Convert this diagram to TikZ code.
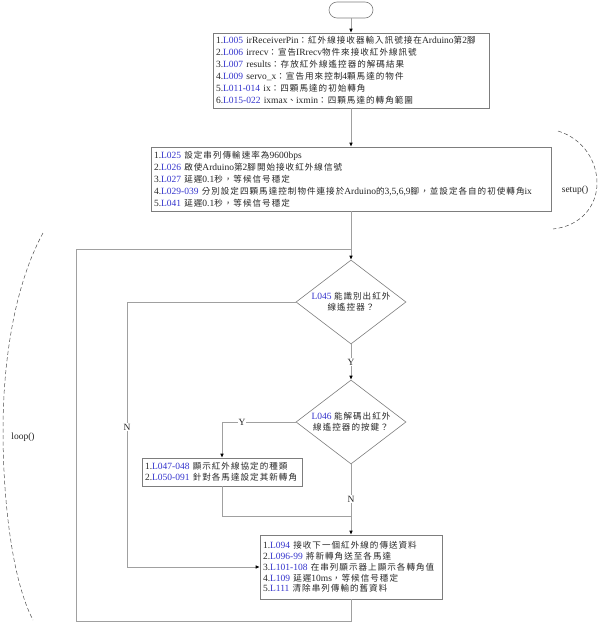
\documentclass[tikz,border=0pt]{standalone}
\usepackage{fontspec}
\setmainfont{Liberation Serif}
\newfontfamily\zhfont[Scale=0.9,LetterSpace=12]{Noto Sans CJK TC}
\usetikzlibrary{shapes.geometric,arrows.meta}
\definecolor{lnblue}{RGB}{51,51,204}
\definecolor{linegray}{RGB}{160,160,160}
\definecolor{boxgray}{RGB}{125,125,125}
\newcommand\zh[1]{{\zhfont #1}}
\newcommand\lno[1]{\textcolor{lnblue}{#1}}
\begin{document}
\begin{tikzpicture}[x=1pt,y=-1pt,
  textbox/.style={draw=boxgray, line width=0.6pt, align=left, inner xsep=3pt, inner ysep=0pt, text=black!85, font=\fontsize{9.5}{12}\selectfont},
  decision/.style={diamond, draw=boxgray, line width=0.6pt, aspect=1.31, minimum width=110pt, minimum height=84pt, inner sep=0pt, align=center, text=black!85, font=\fontsize{9.5}{11}\selectfont},
  flow/.style={draw=linegray, line width=0.6pt},
  arr/.style={flow, -{Latex[length=4pt,width=3.5pt,color=black]}},
  lbl/.style={fill=white, inner sep=1pt, text=black!85, font=\fontsize{9.5}{11}\selectfont},
  arcline/.style={draw=black!70, line width=0.5pt, dash pattern=on 4pt off 2.5pt},
  arclbl/.style={inner sep=1pt, text=black!85, font=\fontsize{9.5}{11}\selectfont}]
\useasboundingbox (0,0) rectangle (598,640);

\node[draw=boxgray, line width=0.6pt, rounded corners=8pt, minimum width=44pt, minimum height=16pt] (start) at (351,10) {};

\node[textbox, text width=270pt, minimum height=75pt] (b1) at (351,70.5) {%
1.\lno{L005} irReceiverPin\zh{：紅外線接收器輸入訊號接在}Arduino\zh{第}2\zh{腳}\\
2.\lno{L006} irrecv\zh{：宣告}IRrecv\zh{物件來接收紅外線訊號}\\
3.\lno{L007} results\zh{：存放紅外線遙控器的解碼結果}\\
4.\lno{L009} servo\_x\zh{：宣告用來控制}4\zh{顆馬達的物件}\\
5.\lno{L011-014} ix\zh{：四顆馬達的初始轉角}\\
6.\lno{L015-022} ixmax\zh{、}ixmin\zh{：四顆馬達的轉角範圍}};

\node[textbox, text width=394pt, minimum height=64pt] (b2) at (351,179) {%
1.\lno{L025} \zh{設定串列傳輸速率為}9600bps\\
2.\lno{L026} \zh{啟使}Arduino\zh{第}2\zh{腳開始接收紅外線信號}\\
3.\lno{L027} \zh{延遲}0.1\zh{秒，等候信号穩定}\\
4.\lno{L029-039} \zh{分別設定四顆馬達控制物件連接於}Arduino\zh{的}3,5,6,9\zh{腳，並設定各自的初使轉角}ix\\
5.\lno{L041} \zh{延遲}0.1\zh{秒，等候信号穩定}};

\node[decision] (d1) at (351,302) {\lno{L045} \zh{能識別出紅外}\\\zh{線遙控器？}};
\node[decision] (d2) at (351,422) {\lno{L046} \zh{能解碼出紅外}\\\zh{線遙控器的按鍵？}};

\node[textbox, text width=154pt, minimum height=28pt, font=\fontsize{9.5}{11}\selectfont] (b3) at (222,472) {%
1.\lno{L047-048} \zh{顯示紅外線協定的種類}\\
2.\lno{L050-091} \zh{針對各馬達設定其新轉角}};

\node[textbox, text width=176pt, minimum height=64pt, font=\fontsize{9.5}{10.8}\selectfont] (b5) at (351,567) {%
1.\lno{L094} \zh{接收下一個紅外線的傳送資料}\\
2.\lno{L096-99} \zh{將新轉角送至各馬達}\\
3.\lno{L101-108} \zh{在串列顯示器上顯示各轉角值}\\
4.\lno{L109} \zh{延遲}10ms\zh{，等候信号穩定}\\
5.\lno{L111} \zh{清除串列傳輸的舊資料}};

% coordinates
\coordinate (join) at (351,249);
\coordinate (lb) at (76,621);
\coordinate (nl) at (127,302);
\coordinate (yl) at (222,422);
\coordinate (m3) at (351,516);

% connectors
\draw[arr] (start) -- (b1);
\draw[arr] (b1) -- (b2);
\draw[arr] (b2) -- (d1);
\draw[flow] (b5.south) |- (lb) |- (join);
\draw[arr] (d1) -- (d2);
\draw[arr] (d1.west) -- (nl) |- (b5.west);
\draw[arr] (d2.west) -- (yl) -- (b3.north);
\draw[flow] (b3.south) |- (m3);
\draw[arr] (d2) -- (b5);

% labels
\node[lbl] (ylab1) at (351,362) {Y};
\node[lbl] (nlab1) at (127,427) {N};
\node[lbl] (ylab2) at (242,422) {Y};
\node[lbl] (nlab2) at (351,499) {N};

% setup / loop braces
\draw[arcline] (558,131) .. controls (584,139) and (597,162) .. (597,183) .. controls (597,206) and (581,226) .. (553,229);
\node[arclbl] (su) at (575,190) {setup()};
\draw[arcline] (43,233) .. controls (12,290) and (3,370) .. (3,430) .. controls (3,500) and (12,580) .. (33,620);
\node[arclbl] (lp) at (23,437) {loop()};
\end{tikzpicture}
\end{document}
